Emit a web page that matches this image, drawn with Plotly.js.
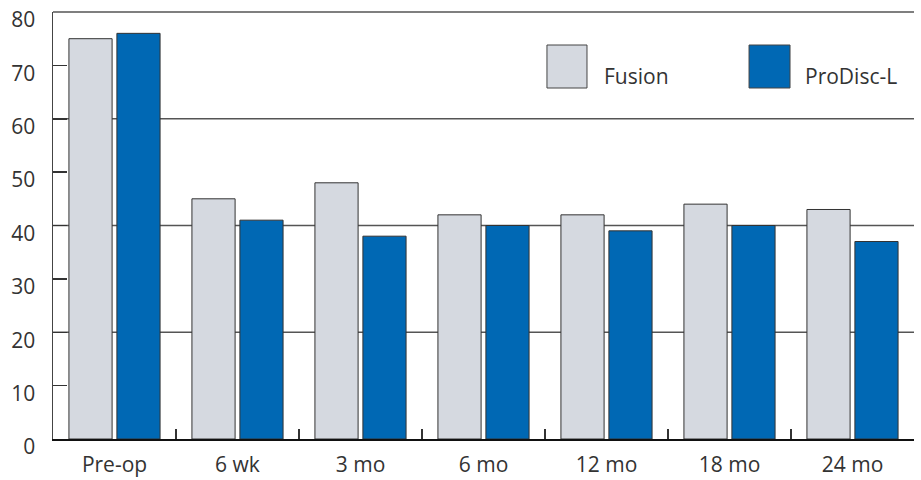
<!DOCTYPE html>
<html><head><meta charset="utf-8">
<script src="https://cdn.plot.ly/plotly-3.0.1.min.js"></script>
<style>html,body{margin:0;padding:0;background:#fff}#chart{width:921px;height:480px}</style>
</head><body><div id="chart"></div>
<script>
const categories = ["Pre-op", "6 wk", "3 mo", "6 mo", "12 mo", "18 mo", "24 mo"];
const fusion = [75, 45, 48, 42, 42, 44, 43];
const prodisc = [76, 41, 38, 40, 39, 40, 37];
const seriesNames = ["Fusion", "ProDisc-L"];
const gridValues = [20, 40, 60];
const colors = ["#d5d9e0", "#0068b4"];

const font = {family: "Open Sans, Noto Sans, sans-serif", size: 21, color: "#333"};

const traces = [
  {type: "bar", name: seriesNames[0], x: categories, y: fusion,
   marker: {color: colors[0], line: {color: "#333", width: 1}}, showlegend: false},
  {type: "bar", name: seriesNames[1], x: categories, y: prodisc,
   marker: {color: colors[1], line: {color: "#333", width: 1}}, showlegend: false}
];

const legendBoxes = [[0.5737, 0.6202], [0.8084, 0.856]];
const legendText = [0.6376, 0.871];
const shapes = [
  {type: "line", xref: "paper", yref: "paper", x0: 0, x1: 1, y0: 1, y1: 1, line: {color: "#555", width: 1.5}}
];
gridValues.forEach(v => shapes.push({type: "line", layer: "below", xref: "paper", yref: "y",
  x0: 0, x1: 1, y0: v, y1: v, line: {color: "#555", width: 1.5}}));
const annotations = [];
seriesNames.forEach((n, i) => {
  shapes.push({type: "rect", xref: "paper", yref: "paper", x0: legendBoxes[i][0], x1: legendBoxes[i][1],
    y0: 0.822, y1: 0.9227, fillcolor: colors[i], line: {color: "#444", width: 1}});
  annotations.push({xref: "paper", yref: "paper", x: legendText[i], y: 0.85, xanchor: "left", yanchor: "middle",
    text: n, showarrow: false, font: font});
});

const layout = {
  width: 921, height: 480,
  margin: {l: 53, r: 7, t: 12, b: 41},
  paper_bgcolor: "#fff", plot_bgcolor: "#fff",
  font: font,
  barmode: "group", bargap: 0.22, bargroupgap: 0.1,
  xaxis: {showline: true, linecolor: "#111", linewidth: 2, ticks: "inside", tickson: "boundaries",
    ticklen: 10, tickcolor: "#333", tickwidth: 1.5, showgrid: false, tickfont: font, fixedrange: true,
    ticklabelstandoff: 6},
  yaxis: {range: [0, 80], dtick: 10, showline: true, linecolor: "#444", linewidth: 1.5,
    ticks: "inside", ticklen: 14, tickcolor: "#333", tickwidth: 1.5, showgrid: false,
    ticklabelshift: 8, ticklabelstandoff: 12, zeroline: false, tickfont: font},
  shapes: shapes,
  annotations: annotations
};
Plotly.newPlot("chart", traces, layout, {displayModeBar: false, staticPlot: true});
</script></body></html>
